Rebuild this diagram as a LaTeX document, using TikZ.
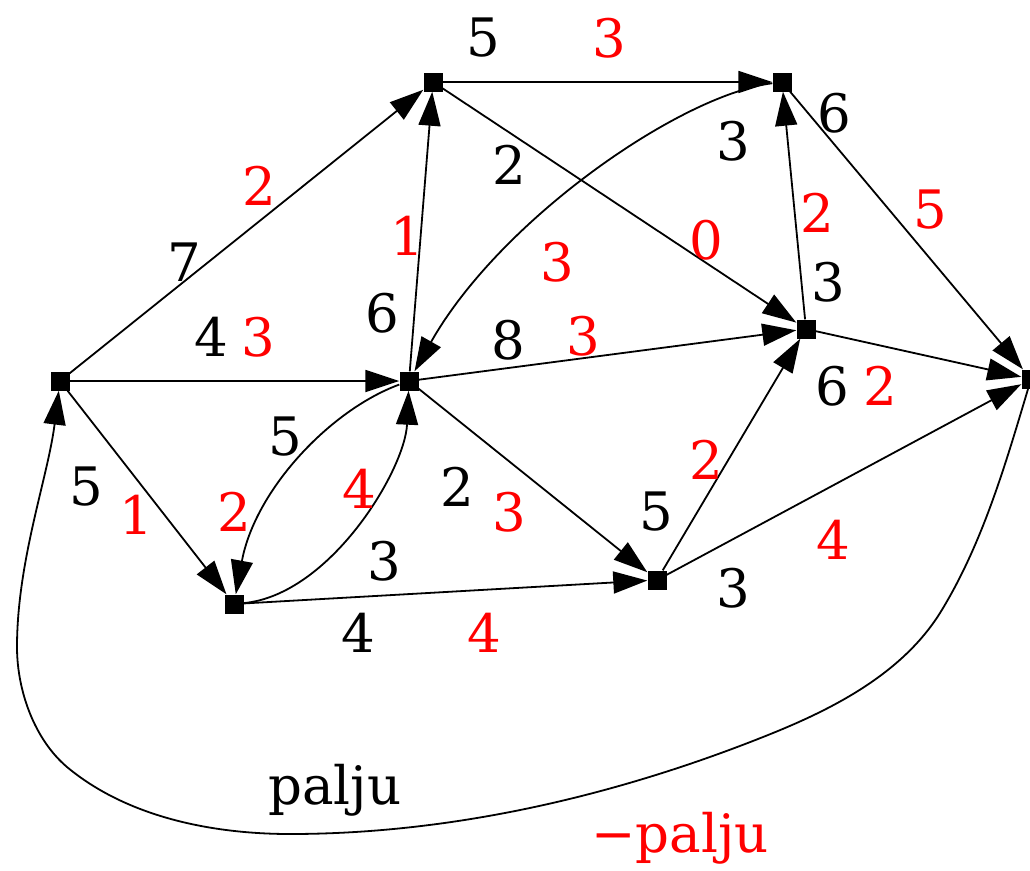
\documentclass[tikz,border=0pt]{standalone}
\usepackage{fontspec}
\setmainfont{DejaVu Serif}
\usetikzlibrary{arrows.meta}
\begin{document}
\begin{tikzpicture}[x=1pt,y=-1pt,
  vert/.style={rectangle,fill=black,inner sep=0pt,minimum size=19pt},
  edge/.style={line width=1.8pt,-{Triangle[length=34pt,width=22pt]}},
  lb/.style={font=\fontsize{53}{60}\selectfont,inner sep=0pt,text=black},
  lr/.style={lb,text=red}]
\useasboundingbox (0,0) rectangle (1030,870);
% vertices
\node[vert] (s) at (60,381) {};
\node[vert] (a) at (433,82) {};
\node[vert] (b) at (782,82) {};
\node[vert] (c) at (409,381) {};
\node[vert] (d) at (806,329) {};
\node[vert] (e) at (234,604) {};
\node[vert] (f) at (657,580) {};
\node[vert] (t) at (1031,379) {};
\coordinate (p1) at (940,613);
\coordinate (p2) at (773,733);
\coordinate (p4) at (290,834);
\coordinate (p5) at (67,767);
\coordinate (p6) at (17,647);
% edges
\draw[edge] (s) -- (a);
\draw[edge] (s) -- (c);
\draw[edge] (s) -- (e);
\draw[edge] (a) -- (b);
\draw[edge] (a) -- (d);
\draw[edge] (c) -- (a);
\draw[edge] (b) .. controls (680,95) and (500,220) .. (c);
\draw[edge] (d) -- (b);
\draw[edge] (b) -- (t);
\draw[edge] (c) -- (d);
\draw[edge] (d) -- (t);
\draw[edge] (c) .. controls (330,410) and (255,490) .. (e);
\draw[edge] (e) .. controls (330,595) and (405,470) .. (c);
\draw[edge] (c) -- (f);
\draw[edge] (e) -- (f);
\draw[edge] (f) -- (d);
\draw[edge] (f) -- (t);
\draw[edge] (t) .. controls (1005,466) and (982,545) .. (p1)
  .. controls (903,672) and (837,707) .. (p2)
  .. controls (620,795) and (454,834) .. (p4)
  .. controls (212,834) and (127,817) .. (p5)
  .. controls (34,739) and (17,690) .. (p6)
  .. controls (17,561) and (48,477) .. (s);
% labels
\node[lb] (l1) at (483,38) {5};
\node[lr] (l2) at (609,38) {3};
\node[lb] (l3) at (834,113) {6};
\node[lr] (l4) at (930,210) {5};
\node[lb] (l5) at (733,141) {3};
\node[lr] (l6) at (557,262) {3};
\node[lb] (l7) at (509,165) {2};
\node[lr] (l8) at (706,240) {0};
\node[lr] (l9) at (817,213) {2};
\node[lb] (l10) at (828,282) {3};
\node[lr] (l11) at (259,186) {2};
\node[lb] (l12) at (184,262) {7};
\node[lr] (l13) at (407,236) {1};
\node[lb] (l14) at (382,313) {6};
\node[lb] (l15) at (211,337) {4};
\node[lr] (l16) at (258,337) {3};
\node[lb] (l17) at (508,340) {8};
\node[lr] (l18) at (583,336) {3};
\node[lb] (l19) at (832,386) {6};
\node[lr] (l20) at (880,386) {2};
\node[lb] (l21) at (86,487) {5};
\node[lr] (l22) at (136,515) {1};
\node[lb] (l23) at (285,437) {5};
\node[lr] (l24) at (234,512) {2};
\node[lr] (l25) at (359,489) {4};
\node[lb] (l26) at (384,561) {3};
\node[lb] (l27) at (457,487) {2};
\node[lr] (l28) at (509,512) {3};
\node[lr] (l29) at (706,460) {2};
\node[lb] (l30) at (656,512) {5};
\node[lr] (l31) at (833,540) {4};
\node[lb] (l32) at (733,588) {3};
\node[lb] (l33) at (358,633) {4};
\node[lr] (l34) at (484,633) {4};
\node[lb] (l35) at (335,790) {palju};
\node[lr] (l36) at (680,838) {−palju};
\end{tikzpicture}
\end{document}
